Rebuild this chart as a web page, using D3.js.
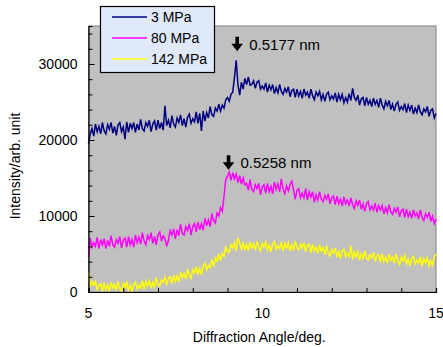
<!DOCTYPE html>
<html>
<head>
<meta charset="utf-8">
<script src="https://cdn.jsdelivr.net/npm/d3@7"></script>
<style>
  body { margin: 0; background: #fff; }
  text { font-family: "Liberation Sans", Arial, sans-serif; fill: #000; }
</style>
</head>
<body>
<div id="chart"></div>
<script>
// diffraction angle grid: 5.00 .. 15.00 deg, step 0.05
const angleStart = 5, angleStep = 0.05;

const seriesNames = ['3 MPa', '80 MPa', '142 MPa'];
const seriesColors = ['#000080', '#ff00ff', '#ffff00'];

const int3MPa = [
  19500, 20800, 21500, 20500, 22100, 21100, 21800, 20800, 22300, 21200,
  20800, 22000, 21400, 22300, 20900, 21800, 20600, 22000, 22300, 21100,
  21700, 20100, 22400, 21000, 22200, 21500, 22300, 21000, 22100, 21300,
  22700, 21500, 21200, 22300, 21800, 22600, 21100, 22100, 22500, 21300,
  22600, 21500, 22300, 21300, 24500, 21900, 22600, 21600, 23200, 22100,
  21700, 22900, 22300, 23300, 21900, 22800, 21700, 23000, 23400, 22200,
  22800, 22400, 23700, 22200, 23500, 21200, 23800, 22500, 23600, 22900,
  24400, 23300, 23100, 24200, 23800, 24700, 23800, 24600, 24200, 25300,
  25600, 25100, 26000, 26300, 28200, 30500, 27300, 25900, 27600, 26700,
  28100, 27300, 28300, 27200, 27300, 27800, 26800, 27600, 27800, 26700,
  27100, 26700, 27500, 26300, 27200, 26600, 27300, 26100, 26900, 26200,
  27300, 26400, 26000, 26800, 26300, 27000, 25700, 26500, 26700, 25600,
  26700, 25800, 26400, 25500, 26700, 25900, 26300, 25500, 26700, 25800,
  25300, 26300, 25800, 26400, 25300, 26000, 25100, 26000, 26300, 25300,
  25800, 25400, 26200, 25000, 26000, 25300, 26000, 24900, 25600, 25000,
  26100, 25200, 26800, 25600, 25200, 25900, 24600, 25400, 25600, 24500,
  25600, 24700, 25200, 24400, 25500, 24700, 25200, 24300, 25500, 24600,
  24100, 25100, 24500, 25200, 24000, 24700, 23800, 24700, 25000, 23900,
  24400, 24000, 24800, 23600, 24600, 23900, 24600, 23400, 24200, 23600,
  24600, 23700, 23300, 24100, 23700, 24400, 23100, 23900, 24100, 22900,
  23500
];

const int80MPa = [
  4600, 7100, 5900, 6500, 6000, 7200, 5700, 6900, 6200, 7000,
  5700, 6800, 6000, 7400, 6200, 5900, 6900, 6400, 7300, 5800,
  6800, 7100, 5900, 7300, 6200, 6900, 5900, 7500, 6500, 7200,
  6300, 7800, 6700, 6200, 7400, 6900, 7800, 6400, 7300, 6200,
  7500, 7900, 6700, 7400, 7000, 6000, 6800, 8100, 7500, 8300,
  7000, 8200, 7400, 8900, 7700, 7500, 8600, 8100, 9000, 7500,
  8600, 9000, 7900, 9200, 8200, 9000, 8100, 9700, 8700, 9500,
  8600, 10300, 9400, 9100, 10400, 10000, 11100, 10600, 12600, 14800,
  15200, 15800, 14700, 15700, 14900, 15500, 14400, 15300, 14200, 15000,
  14100, 14300, 13400, 14800, 13500, 13200, 14100, 13600, 14300, 12800,
  13800, 14100, 13000, 14300, 13200, 13900, 12900, 14500, 13500, 14200,
  13200, 14900, 13500, 12900, 14000, 13300, 14100, 14600, 13500, 12200,
  13400, 13600, 12400, 13000, 12400, 13600, 12100, 13200, 12500, 13200,
  11800, 12800, 12100, 13200, 12200, 11900, 12700, 12200, 12900, 11600,
  12400, 12600, 11500, 12600, 11600, 12200, 11300, 12500, 11600, 12100,
  11300, 12400, 11500, 11000, 12000, 11400, 12100, 10900, 11600, 10600,
  11600, 11900, 10800, 11300, 10800, 11700, 10500, 11400, 10800, 11400,
  10300, 11100, 10400, 11500, 10500, 10200, 11000, 10500, 11200, 9900,
  10700, 10900, 9800, 10900, 9900, 10500, 9700, 10800, 10000, 10400,
  9600, 10800, 9800, 9400, 10300, 9800, 10500, 9300, 10000, 9000,
  9600
];

const int142MPa = [
  2600, 700, 1400, 900, 1400, 200, 900, 1100, 100, 1200,
  300, 900, 100, 1300, 500, 1000, 200, 1400, 500, 100,
  1100, 600, 1300, 200, 900, 100, 1000, 1300, 400, 900,
  500, 1500, 300, 1400, 800, 1500, 500, 1300, 700, 1900,
  1000, 800, 1600, 1300, 2000, 900, 1800, 2000, 1100, 2200,
  1400, 2100, 1300, 2600, 1900, 2400, 1700, 3000, 2200, 1800,
  2900, 2500, 3300, 2300, 3100, 2300, 3400, 3800, 2900, 3500,
  3200, 4300, 3300, 4500, 4100, 5000, 4100, 5100, 4700, 6000,
  5300, 5200, 6200, 5800, 6500, 5400, 7100, 6500, 5500, 6600,
  5600, 6200, 5400, 6600, 5800, 6300, 5500, 6700, 5800, 5400,
  6400, 5900, 6600, 5500, 6200, 5300, 6300, 6600, 5600, 6100,
  5700, 6600, 5400, 6400, 5800, 6500, 5400, 6200, 5600, 6700,
  5800, 5500, 6300, 5800, 6500, 5300, 6100, 6300, 5200, 6300,
  5400, 5900, 5100, 6200, 5400, 5800, 4900, 6100, 5100, 4700,
  5600, 5100, 5800, 4600, 5300, 4400, 5400, 5600, 4600, 5100,
  4700, 6100, 4300, 5300, 4600, 5300, 4200, 5000, 4400, 5400,
  4500, 4200, 4900, 4500, 5200, 4000, 4800, 4900, 3900, 5000,
  4000, 4600, 3800, 5000, 4200, 4600, 3800, 5000, 4100, 3600,
  4600, 4100, 4800, 3700, 4300, 3400, 4400, 4700, 3700, 4200,
  3800, 4600, 3400, 4400, 3800, 4500, 3400, 4100, 3500, 4600,
  5000
];

const peakAngles = [9.25, 9.0];
const peakTops = [33600, 18000];
const peakLabels = ['0.5177 nm', '0.5258 nm'];

const xTicks = [5, 10, 15];
const yTicks = [0, 10000, 20000, 30000];

const width = 443, height = 347;
const margin = { top: 26, right: 7, bottom: 55, left: 88.5 };
const innerW = width - margin.left - margin.right;
const innerH = height - margin.top - margin.bottom;

const svg = d3.select('#chart').append('svg')
  .attr('width', width)
  .attr('height', height);

const x = d3.scaleLinear().domain([5, 15]).range([margin.left, margin.left + innerW]);
const y = d3.scaleLinear().domain([0, 35000]).range([margin.top + innerH, margin.top]);

// plot area
svg.append('rect')
  .attr('x', x(5)).attr('y', y(35000))
  .attr('width', x(15) - x(5)).attr('height', y(0) - y(35000))
  .attr('fill', '#c0c0c0')
  .attr('stroke', '#808080')
  .attr('stroke-width', 1);

const angleOf = i => angleStart + i * angleStep;
const line = d3.line()
  .x((d, i) => x(angleOf(i)))
  .y(d => y(d));

const allSeries = [int3MPa, int80MPa, int142MPa];
[2, 1, 0].forEach(k => {
  svg.append('path')
    .datum(allSeries[k])
    .attr('fill', 'none')
    .attr('stroke', seriesColors[k])
    .attr('stroke-width', 1.5)
    .attr('stroke-linejoin', 'miter')
    .attr('d', line);
});

// axes, ticks pointing inward
const xAxis = svg.append('g')
  .attr('transform', `translate(0,${y(0)})`)
  .call(d3.axisBottom(x).tickValues(d3.range(5, 15.01, 1)).tickSize(-4).tickFormat(''));
const yAxis = svg.append('g')
  .attr('transform', `translate(${x(5)},0)`)
  .call(d3.axisLeft(y).tickValues(d3.range(0, 35001, 2000)).tickSize(-4).tickFormat(''));
[xAxis, yAxis].forEach(g => {
  g.selectAll('path.domain').attr('stroke', '#000').attr('stroke-width', 1.2);
  g.selectAll('.tick line').attr('stroke', '#000');
});
yAxis.selectAll('.tick line').attr('x2', d => d % 10000 === 0 ? 6 : 4);

svg.append('g').selectAll('text')
  .data(xTicks).enter().append('text')
  .attr('x', d => x(d)).attr('y', 318)
  .attr('text-anchor', 'middle')
  .style('font-size', '14px')
  .text(d => d);

svg.append('g').selectAll('text')
  .data(yTicks).enter().append('text')
  .attr('x', x(5) - 11).attr('y', d => y(d) + 5)
  .attr('text-anchor', 'end')
  .style('font-size', '14px')
  .text(d => d);

svg.append('text')
  .attr('x', (x(5) + x(15)) / 2 - 3).attr('y', 342)
  .attr('text-anchor', 'middle')
  .style('font-size', '14px')
  .text('Diffraction Angle/deg.');

svg.append('text')
  .attr('transform', 'translate(20,166) rotate(-90)')
  .attr('text-anchor', 'middle')
  .style('font-size', '14px')
  .text('Intensity/arb. unit');

// peak markers
peakAngles.forEach((a, k) => {
  const cx = x(a) + 1, ty = y(peakTops[k]);
  svg.append('path')
    .attr('d', `M${cx - 1.8},${ty} h3.6 v7 h4 l-5.8,7.5 l-5.8,-7.5 h4 z`)
    .attr('fill', '#000');
  svg.append('text')
    .attr('x', cx + 12).attr('y', ty + 13)
    .style('font-size', '15px')
    .text(peakLabels[k]);
});

// legend
const legend = svg.append('g');
legend.append('rect')
  .attr('x', 100.5).attr('y', 6.5)
  .attr('width', 114).attr('height', 66)
  .attr('fill', '#dfe9f9')
  .attr('stroke', '#000')
  .attr('stroke-width', 1.2);
seriesNames.forEach((name, k) => {
  const ly = 17 + k * 21;
  legend.append('line')
    .attr('x1', 112).attr('x2', 147)
    .attr('y1', ly).attr('y2', ly)
    .attr('stroke', seriesColors[k])
    .attr('stroke-width', 1.4);
  legend.append('text')
    .attr('x', 151).attr('y', ly + 5)
    .style('font-size', '14px')
    .text(name);
});
</script>
</body>
</html>
